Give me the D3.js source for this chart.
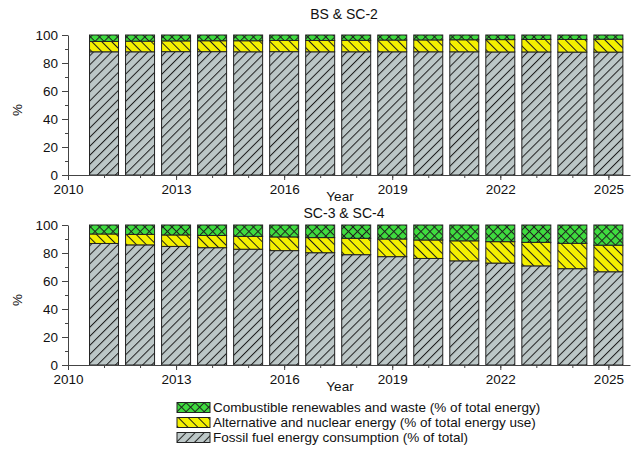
<!DOCTYPE html>
<html>
<head>
<meta charset="utf-8">
<script src="https://cdn.jsdelivr.net/npm/d3@7"></script>
<style>
  html, body { margin: 0; padding: 0; background: #fff; }
  svg { display: block; font-family: "Liberation Sans", Arial, sans-serif; }
</style>
</head>
<body>
<svg id="chart" width="636" height="450"></svg>
<script>
// Energy mix by year for two scenarios (stacked shares, %)
const years = [2011, 2012, 2013, 2014, 2015, 2016, 2017, 2018, 2019, 2020, 2021, 2022, 2023, 2024, 2025];
const xTicks = [2010, 2013, 2016, 2019, 2022, 2025];
const yTicks = [0, 20, 40, 60, 80, 100];

const bsFossil = [88.0, 88.0, 88.1, 88.1, 88.0, 88.1, 88.0, 88.0, 88.0, 88.0, 88.0, 87.9, 87.9, 87.8, 87.8];
const bsAlt    = [7.4, 7.6, 7.7, 7.8, 7.9, 8.0, 8.1, 8.2, 8.4, 8.5, 8.6, 8.8, 8.9, 9.0, 9.2];
const bsComb   = [4.6, 4.4, 4.2, 4.1, 4.1, 3.9, 3.9, 3.8, 3.6, 3.5, 3.4, 3.3, 3.2, 3.2, 3.0];

const scFossil = [86.8, 85.8, 84.7, 83.8, 82.7, 81.7, 80.2, 78.8, 77.4, 76.1, 74.4, 72.8, 70.8, 68.8, 66.6];
const scAlt    = [6.8, 7.5, 8.2, 8.7, 9.2, 9.8, 10.8, 11.7, 12.6, 13.2, 14.3, 15.3, 16.8, 18.1, 19.0];
const scComb   = [6.4, 6.7, 7.1, 7.5, 8.1, 8.5, 9.0, 9.5, 10.0, 10.7, 11.3, 11.9, 12.4, 13.1, 14.4];

const seriesKeys = ["fossil", "alt", "comb"];
const legendLabels = {
  comb: "Combustible renewables and waste (% of total energy)",
  alt: "Alternative and nuclear energy (% of total energy use)",
  fossil: "Fossil fuel energy consumption (% of total)"
};

const panels = [
  { title: "BS & SC-2", fossil: bsFossil, alt: bsAlt, comb: bsComb, top: 35, bottom: 175, titleY: 19 },
  { title: "SC-3 & SC-4", fossil: scFossil, alt: scAlt, comb: scComb, top: 225, bottom: 365, titleY: 218 }
];

const svg = d3.select("#chart");
const defs = svg.append("defs");

// Hatch fills
function hatch(id, bg, angle, spacing) {
  const p = defs.append("pattern")
    .attr("id", id).attr("patternUnits", "userSpaceOnUse")
    .attr("width", spacing).attr("height", spacing)
    .attr("patternTransform", `rotate(${angle})`);
  p.append("rect").attr("width", spacing).attr("height", spacing).attr("fill", bg);
  p.append("line").attr("x1", 0.5).attr("y1", 0).attr("x2", 0.5).attr("y2", spacing)
    .attr("stroke", "#1e1e1e").attr("stroke-width", 1);
  return `url(#${id})`;
}
function cross(id, bg, spacing) {
  const p = defs.append("pattern")
    .attr("id", id).attr("patternUnits", "userSpaceOnUse")
    .attr("width", spacing).attr("height", spacing)
    .attr("patternTransform", "rotate(45)");
  p.append("rect").attr("width", spacing).attr("height", spacing).attr("fill", bg);
  p.append("line").attr("x1", 0.5).attr("y1", 0).attr("x2", 0.5).attr("y2", spacing)
    .attr("stroke", "#1e1e1e").attr("stroke-width", 1);
  p.append("line").attr("x1", 0).attr("y1", 0.5).attr("x2", spacing).attr("y2", 0.5)
    .attr("stroke", "#1e1e1e").attr("stroke-width", 1);
  return `url(#${id})`;
}

const fills = {
  fossil: hatch("hFossil", "#bcc7c7", 45, 6.4),
  alt: hatch("hAlt", "#f4f000", -45, 7),
  comb: cross("hComb", "#3fdc3f", 6.4)
};

const x = d3.scaleLinear().domain([2010, 2025.6]).range([68, 630]);
const barW = 29;
const axisColor = "#444";
const fontSize = 13.5;

panels.forEach(pn => {
  const y = d3.scaleLinear().domain([0, 100]).range([pn.bottom, pn.top]);
  const g = svg.append("g");

  const rows = years.map((yr, i) => ({ year: yr, fossil: pn.fossil[i], alt: pn.alt[i], comb: pn.comb[i] }));
  const stacked = d3.stack().keys(seriesKeys)(rows);

  stacked.forEach(layer => {
    g.append("g").selectAll("rect").data(layer).join("rect")
      .attr("x", d => x(d.data.year) - barW / 2)
      .attr("width", barW)
      .attr("y", d => y(d[1]))
      .attr("height", d => y(d[0]) - y(d[1]))
      .attr("fill", fills[layer.key])
      .attr("stroke", "#222")
      .attr("stroke-width", 1);
  });

  // x axis: minor ticks each year, major every three years
  const xMinor = d3.axisBottom(x).tickValues(d3.range(2010, 2026)).tickSize(3).tickFormat("");
  const gxm = g.append("g").attr("transform", `translate(0,${pn.bottom})`).call(xMinor);
  const xMajor = d3.axisBottom(x).tickValues(xTicks).tickSize(5).tickSizeOuter(0).tickFormat(d3.format("d")).tickPadding(4);
  const gx = g.append("g").attr("transform", `translate(0,${pn.bottom})`).call(xMajor);
  [gxm, gx].forEach(a => {
    a.select(".domain").attr("stroke", axisColor);
    a.selectAll(".tick line").attr("stroke", axisColor);
  });
  gxm.select(".domain").remove();
  gx.selectAll("text").attr("font-size", fontSize).attr("fill", "#111").attr("font-family", "Liberation Sans, Arial, sans-serif");

  // y axis
  const yMinor = d3.axisLeft(y).tickValues([10, 30, 50, 70, 90]).tickSize(3).tickFormat("");
  const gym = g.append("g").attr("transform", `translate(68,0)`).call(yMinor);
  gym.select(".domain").remove();
  gym.selectAll(".tick line").attr("stroke", axisColor);
  const yMajor = d3.axisLeft(y).tickValues(yTicks).tickSize(6).tickSizeOuter(0).tickPadding(4);
  const gy = g.append("g").attr("transform", `translate(68,0)`).call(yMajor);
  gy.select(".domain").attr("stroke", axisColor);
  gy.selectAll(".tick line").attr("stroke", axisColor);
  gy.selectAll("text").attr("font-size", fontSize).attr("fill", "#111").attr("font-family", "Liberation Sans, Arial, sans-serif");

  // Titles and axis labels
  g.append("text").attr("x", 344).attr("y", pn.titleY)
    .attr("text-anchor", "middle").attr("font-size", 14).attr("fill", "#111").text(pn.title);
  g.append("text").attr("x", 340).attr("y", pn.bottom + 26)
    .attr("text-anchor", "middle").attr("font-size", fontSize).attr("fill", "#111").text("Year");
  g.append("text")
    .attr("transform", `translate(22,${(pn.top + pn.bottom) / 2 + 5}) rotate(-90)`)
    .attr("text-anchor", "middle").attr("font-size", fontSize).attr("fill", "#111").text("%");
});

// Legend
const legendOrder = ["comb", "alt", "fossil"];
const lg = svg.append("g").attr("transform", "translate(177,402)");
legendOrder.forEach((k, i) => {
  const row = lg.append("g").attr("transform", `translate(0,${i * 15})`);
  row.append("rect").attr("x", 0).attr("y", 0.5).attr("width", 33).attr("height", 10)
    .attr("fill", fills[k]).attr("stroke", "#222").attr("stroke-width", 1);
  row.append("text").attr("x", 36).attr("y", 10)
    .attr("font-size", 13.5).attr("fill", "#111").text(legendLabels[k]);
});
</script>
</body>
</html>
